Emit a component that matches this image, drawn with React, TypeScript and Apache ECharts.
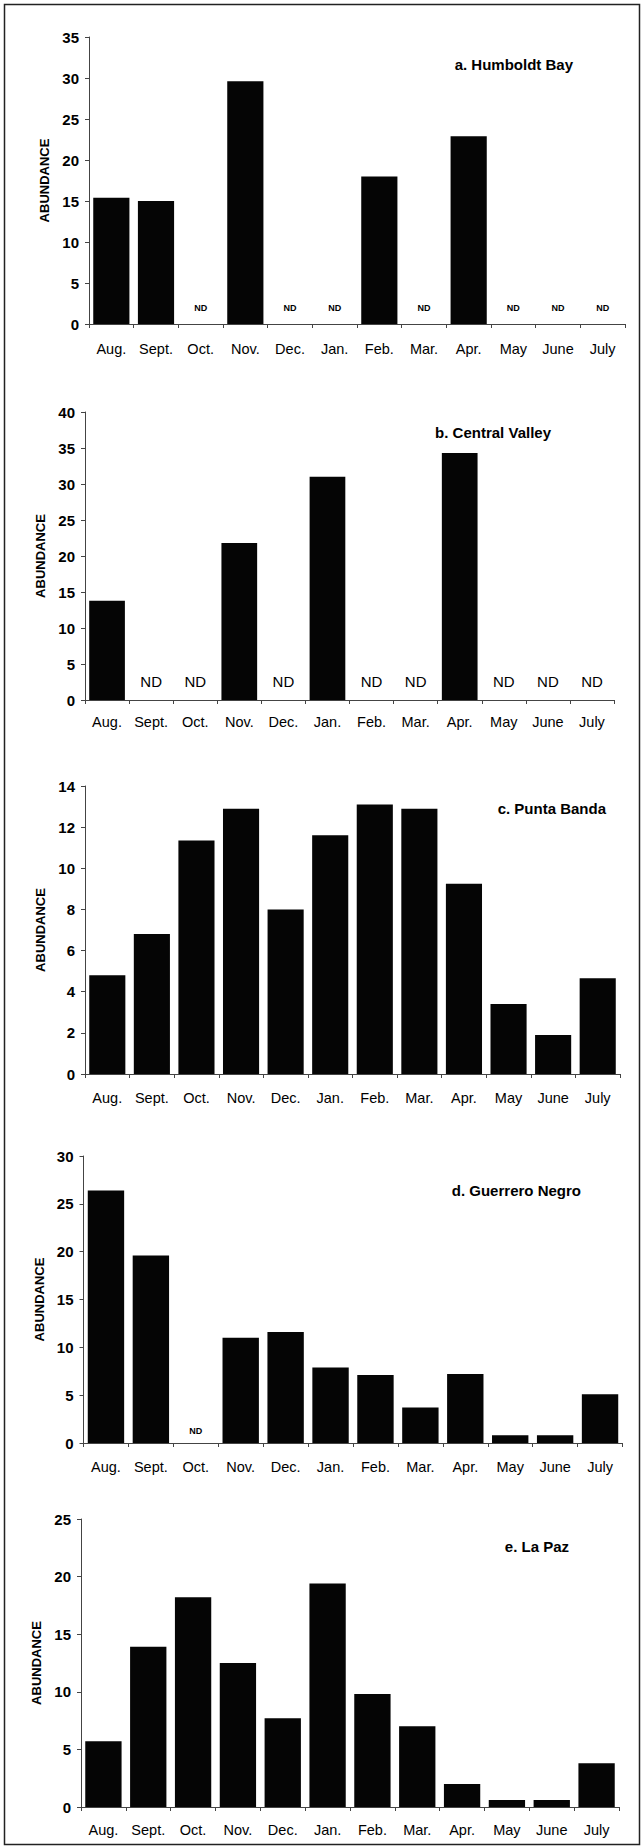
import React, { useEffect, useRef } from "react";
import * as echarts from "echarts";

const months = ["Aug.", "Sept.", "Oct.", "Nov.", "Dec.", "Jan.", "Feb.", "Mar.", "Apr.", "May", "June", "July"];

// null = ND (no data)
const humboldtBay = [15.4, 15.0, null, 29.6, null, null, 18.0, null, 22.9, null, null, null];
const centralValley = [13.8, null, null, 21.8, null, 31.0, null, null, 34.3, null, null, null];
const puntaBanda = [4.8, 6.8, 11.35, 12.9, 8.0, 11.6, 13.1, 12.9, 9.25, 3.4, 1.9, 4.65];
const guerreroNegro = [26.4, 19.6, null, 11.0, 11.6, 7.9, 7.1, 3.7, 7.2, 0.8, 0.8, 5.1];
const laPaz = [5.7, 13.9, 18.2, 12.5, 7.7, 19.4, 9.8, 7.0, 2.0, 0.6, 0.6, 3.8];

const panelTitles = ["a. Humboldt Bay", "b. Central Valley", "c. Punta Banda", "d. Guerrero Negro", "e. La Paz"];
const yMax = [35, 40, 14, 30, 25];
const yStep = [5, 5, 2, 5, 5];

const FONT = "'Liberation Sans', Arial, sans-serif";

export default function App() {
  const ref = useRef<HTMLDivElement>(null);

  useEffect(() => {
    if (!ref.current) return;
    const chart = echarts.init(ref.current, undefined, { renderer: "svg" });

    const seriesData = [humboldtBay, centralValley, puntaBanda, guerreroNegro, laPaz];
    const grids = [
      { left: 89, top: 37, width: 536, height: 287 },
      { left: 85, top: 412, width: 529, height: 288 },
      { left: 85, top: 786, width: 535, height: 288 },
      { left: 83.5, top: 1156, width: 539, height: 287 },
      { left: 81, top: 1519, width: 538, height: 288 },
    ];
    const ndStyle = [
      { fontSize: 9, fontWeight: "bold", distance: 12 },
      { fontSize: 15, fontWeight: "normal", distance: 11 },
      { fontSize: 9, fontWeight: "bold", distance: 12 },
      { fontSize: 9, fontWeight: "bold", distance: 8 },
      { fontSize: 9, fontWeight: "bold", distance: 12 },
    ];
    const labelMargin = [17, 14, 16, 16, 15];
    const titlePos = [
      { x: 573, y: 64 },
      { x: 551, y: 432 },
      { x: 606, y: 808 },
      { x: 581, y: 1190 },
      { x: 569, y: 1546 },
    ];

    const axisLineStyle = { color: "#444", width: 1 };

    const option: any = {
      animation: false,
      backgroundColor: "#fff",
      grid: grids.map((g) => ({ ...g, containLabel: false })),
      xAxis: grids.map((_, i) => ({
        type: "category",
        gridIndex: i,
        data: months,
        boundaryGap: true,
        axisLine: { show: true, lineStyle: axisLineStyle },
        axisTick: { show: true, length: 4, inside: false, lineStyle: axisLineStyle },
        axisLabel: {
          show: true,
          interval: 0,
          margin: labelMargin[i],
          fontSize: 14.5,
          color: "#000",
          fontFamily: FONT,
        },
        splitLine: { show: false },
      })),
      yAxis: grids.map((_, i) => ({
        type: "value",
        gridIndex: i,
        min: 0,
        max: yMax[i],
        interval: yStep[i],
        name: "ABUNDANCE",
        nameLocation: "middle",
        nameGap: i === 4 ? 34 : 37,
        nameTextStyle: { fontSize: 13, fontWeight: "bold", color: "#000", fontFamily: FONT },
        axisLine: { show: true, lineStyle: axisLineStyle },
        axisTick: { show: true, length: 4, inside: false, lineStyle: axisLineStyle },
        axisLabel: { margin: 10, fontSize: 15, fontWeight: "bold", color: "#000", fontFamily: FONT },
        splitLine: { show: false },
      })),
      series: seriesData.map((arr, i) => ({
        type: "bar",
        xAxisIndex: i,
        yAxisIndex: i,
        barCategoryGap: "19%",
        itemStyle: { color: "#050505" },
        data: arr.map((v) =>
          v === null
            ? {
                value: 0,
                label: {
                  show: true,
                  position: "top",
                  distance: ndStyle[i].distance,
                  formatter: "ND",
                  fontSize: ndStyle[i].fontSize,
                  fontWeight: ndStyle[i].fontWeight,
                  color: "#000",
                  fontFamily: FONT,
                },
              }
            : { value: v }
        ),
      })),
      graphic: [
        {
          type: "rect",
          shape: { x: 4.5, y: 4.5, width: 635, height: 1840 },
          style: { fill: "none", stroke: "#222", lineWidth: 1.5 },
          silent: true,
        },
        ...panelTitles.map((t, i) => ({
          type: "text",
          x: titlePos[i].x,
          y: titlePos[i].y,
          style: {
            text: t,
            align: "right",
            verticalAlign: "middle",
            fontSize: 15,
            fontWeight: "bold",
            fill: "#000",
            fontFamily: FONT,
          },
        })),
      ],
    };

    chart.setOption(option);
    return () => chart.dispose();
  }, []);

  return (
    <div
      ref={ref}
      style={{ position: "absolute", left: 0, top: 0, width: 642, height: 1848, background: "#fff" }}
    />
  );
}
